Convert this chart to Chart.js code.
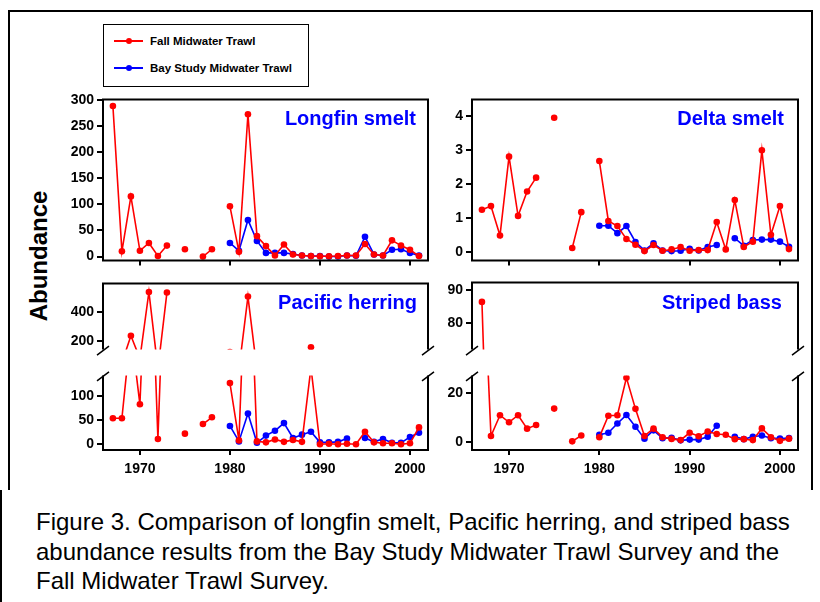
<!DOCTYPE html>
<html>
<head>
<meta charset="utf-8">
<script src="https://cdn.jsdelivr.net/npm/chart.js@4.4.0/dist/chart.umd.min.js"></script>
<style>
  body { margin: 0; width: 820px; height: 602px; background: #fff; position: relative; overflow: hidden;
         font-family: 'Liberation Sans', Arial, sans-serif; }
  canvas { position: absolute; }
  #frame { position: absolute; left: 8px; top: 10px; width: 805px; height: 480px; box-sizing: border-box;
           border: 2px solid #000; border-bottom: none; }
  #capLine { position: absolute; left: 0px; top: 490px; width: 2px; height: 120px; background: #000; }
  #legend { position: absolute; left: 103px; top: 24px; width: 206px; height: 63px; box-sizing: border-box;
            border: 1px solid #000; }
  .item { position: absolute; left: 10px; height: 12px; font-size: 11.5px; font-weight: bold; line-height: 12px; white-space: nowrap; }
  .sw { display: inline-block; position: relative; width: 29px; height: 2px; margin-right: 7px; vertical-align: middle; top: -1px; }
  .sw::after { content: ''; position: absolute; left: 12px; top: -2px; width: 6px; height: 6px; border-radius: 50%; background: inherit; }
  .title { position: absolute; width: 300px; text-align: right; color: #0000ff; font-size: 20px; font-weight: bold; line-height: 20px; }
  #ylab { position: absolute; left: 39px; top: 256px; font-size: 24px; font-weight: bold;
          transform: translate(-50%, -50%) rotate(-90deg); white-space: nowrap; }
  #caption { position: absolute; left: 36px; top: 507px; font-size: 24px; line-height: 29.5px; color: #000; white-space: nowrap; }
</style>
</head>
<body>
<div id="frame"></div>
<div id="capLine"></div>

<canvas id="longfin"></canvas>
<canvas id="delta"></canvas>
<canvas id="herringTop"></canvas>
<canvas id="herringBot"></canvas>
<canvas id="bassTop"></canvas>
<canvas id="bassBot"></canvas>

<div id="legend">
  <div class="item" style="top:10px"><span class="sw" style="background:#ff0000"></span>Fall Midwater Trawl</div>
  <div class="item" style="top:37px"><span class="sw" style="background:#0000ff"></span>Bay Study Midwater Trawl</div>
</div>

<div class="title" style="left:116px; top:108px">Longfin smelt</div>
<div class="title" style="left:484px; top:108px">Delta smelt</div>
<div class="title" style="left:117px; top:292px">Pacific herring</div>
<div class="title" style="left:482px; top:292px">Striped bass</div>

<div id="ylab">Abundance</div>

<div id="caption">Figure 3. Comparison of longfin smelt, Pacific herring, and striped bass<br>abundance results from the Bay Study Midwater Trawl Survey and the<br>Fall Midwater Trawl Survey.</div>

<script>
// years for the Fall Midwater Trawl (red) and Bay Study (blue)
const fallYears = [1967, 1968, 1969, 1970, 1971, 1972, 1973, 1974, 1975, 1976, 1977, 1978, 1979,
  1980, 1981, 1982, 1983, 1984, 1985, 1986, 1987, 1988, 1989, 1990, 1991, 1992, 1993, 1994,
  1995, 1996, 1997, 1998, 1999, 2000, 2001];
const bayYears = [1980, 1981, 1982, 1983, 1984, 1985, 1986, 1987, 1988, 1989, 1990, 1991, 1992,
  1993, 1994, 1995, 1996, 1997, 1998, 1999, 2000, 2001];

const decadeTicks = [1970, 1980, 1990, 2000];

// Longfin smelt
const longfinFall = [288, 10, 115, 11, 26, 1, 21, null, 14, null, 0, 14, null,
  96, 9, 272, 39, 20, 2, 23, 4, 2, 1, 0.5, 0.5, 1, 2, 2, 24, 4, 2, 31, 21, 13, 1];
const longfinBay = [26, 11, 70, 30, 7, 7, 7, 5, 2, 1, 1, 0, 0, 2, 1.5, 38, 4, 2, 13, 14, 7, 2];
const longfinTicks = [0, 50, 100, 150, 200, 250, 300];

// Delta smelt
const deltaFall = [1.24, 1.35, 0.48, 2.81, 1.06, 1.78, 2.19, null, 3.96, null, 0.11, 1.17, null,
  2.68, 0.91, 0.76, 0.38, 0.21, 0.02, 0.2, 0.03, 0.07, 0.14, 0.03, 0.05, 0.05, 0.88, 0.07,
  1.53, 0.14, 0.3, 3.0, 0.5, 1.35, 0.08];
const deltaBay = [0.77, 0.77, 0.55, 0.76, 0.29, 0.04, 0.25, 0.04, 0.02, 0.03, 0.09, 0.04, 0.14,
  0.2, null, 0.4, 0.18, 0.35, 0.36, 0.36, 0.3, 0.15];
const deltaTicks = [0, 1, 2, 3, 4];

// Pacific herring (broken axis)
const herringFall = [54, 54, 237, 83, 534, 11, 530, null, 22, null, 42, 56, null,
  127, 8, 503, 6, 4, 10, 5, 9, 5, 159, 0, 1, 0, 1, 0, 26, 4, 2, 2, 0, 2, 35];
const herringBay = [38, 6, 64, 3, 18, 28, 44, 13, 20, 26, 4, 4, 5, 12, null, 13, 5, 11, 3, 3, 15, 24];
const herringTopTicks = [200, 400];
const herringBotTicks = [0, 50, 100];

// Striped bass (broken axis)
const bassFall = [86.3, 2.5, 11, 8.1, 11, 5.5, 7, null, 13.7, null, 0.3, 2.7, null,
  2, 10.8, 11, 26.3, 13.6, 2.5, 5.5, 2, 1.3, 0.8, 3.8, 2.4, 4.3, 3.3, 3, 1.2, 1.2, 0.8, 5.6, 2, 0.5, 1.4];
const bassBay = [3, 3.8, 7.6, 11.1, 6.3, 1.4, 4.8, 1.6, 1.7, 0.7, 1, 1, 2.2, 6.7, null, 2.2, 1.2, 2.2, 2.7, 1.6, 1.4, 1.6];
const bassTopTicks = [80, 90];
const bassBotTicks = [0, 20];

const FONT = "'Liberation Sans', Arial, sans-serif";

// draws the box round each plot and the // marks where an axis is broken
const panelFrame = {
  id: 'panelFrame',
  afterDatasetsDraw(chart, args, opts) {
    const { ctx, chartArea: a } = chart;
    ctx.save();
    ctx.strokeStyle = '#000';
    ctx.lineWidth = 2;
    ctx.beginPath();
    ctx.moveTo(a.left, a.top - (opts.top ? 1 : 0));
    ctx.lineTo(a.left, a.bottom + (opts.bottom ? 1 : 0));
    ctx.moveTo(a.right, a.top - (opts.top ? 1 : 0));
    ctx.lineTo(a.right, a.bottom + (opts.bottom ? 1 : 0));
    if (opts.top) { ctx.moveTo(a.left, a.top); ctx.lineTo(a.right, a.top); }
    if (opts.bottom) { ctx.moveTo(a.left, a.bottom); ctx.lineTo(a.right, a.bottom); }
    ctx.stroke();
    ctx.lineWidth = 1.5;
    ctx.beginPath();
    const slash = (x, y) => { ctx.moveTo(x - 6, y + 4.5); ctx.lineTo(x + 6, y - 4.5); };
    if (opts.breakBottom) { slash(a.left, a.bottom + 1); slash(a.right, a.bottom + 1); }
    if (opts.breakTop) { slash(a.left, a.top + 1); slash(a.right, a.top + 1); }
    ctx.stroke();
    ctx.restore();
  }
};

function series(years, vals) {
  return years.map((x, i) => ({ x: x, y: vals[i] }));
}

// box = plot area edges on the page
function makePanel(id, box, cfg) {
  const padTop = cfg.breakTop ? 8 : 4;
  const padBottom = cfg.breakBottom ? 8 : 0;
  const xh = cfg.xLabels ? 30 : (cfg.xAxis ? 8 : 0);
  const yw = 50;
  const canvas = document.getElementById(id);
  canvas.width = yw + (box.right - box.left) + 8;
  canvas.height = padTop + (box.bottom - box.top) + padBottom + xh;
  canvas.style.left = (box.left - yw) + 'px';
  canvas.style.top = (box.top - padTop) + 'px';

  const tickFont = { family: FONT, size: 14, weight: 'bold' };

  new Chart(canvas, {
    type: 'line',
    data: {
      datasets: [
        {
          label: 'Fall Midwater Trawl',
          data: series(fallYears, cfg.fall),
          borderColor: '#ff0000', backgroundColor: '#ff0000',
          borderWidth: 1.6, pointRadius: 3.3, pointBorderWidth: 0,
          order: 0
        },
        {
          label: 'Bay Study Midwater Trawl',
          data: series(bayYears, cfg.bay),
          borderColor: '#0000ff', backgroundColor: '#0000ff',
          borderWidth: 1.6, pointRadius: 3.3, pointBorderWidth: 0,
          order: 1
        }
      ]
    },
    options: {
      responsive: false,
      animation: false,
      layout: { padding: { left: 0, right: 8, top: padTop, bottom: padBottom } },
      plugins: {
        legend: { display: false },
        tooltip: { enabled: false },
        panelFrame: { top: !cfg.breakTop, bottom: !cfg.breakBottom, breakTop: cfg.breakTop, breakBottom: cfg.breakBottom }
      },
      scales: {
        x: {
          type: 'linear',
          min: 1965.9, max: 2002,
          display: cfg.xAxis,
          afterBuildTicks: s => { s.ticks = decadeTicks.map(v => ({ value: v })); },
          afterFit: s => { s.height = xh; },
          grid: { drawOnChartArea: false, drawTicks: true, tickLength: 5, color: '#000', lineWidth: 2 },
          border: { display: false },
          ticks: { display: cfg.xLabels, font: tickFont, color: '#000', padding: 6, maxRotation: 0,
                   autoSkip: false, callback: v => String(v) }
        },
        y: {
          min: cfg.min, max: cfg.max,
          afterBuildTicks: s => { s.ticks = cfg.ticks.map(v => ({ value: v })); },
          afterFit: s => { s.width = yw; },
          grid: { drawOnChartArea: false, drawTicks: true, tickLength: 6, color: '#000', lineWidth: 2 },
          border: { display: false },
          ticks: { font: tickFont, color: '#000', padding: 3, callback: v => String(v) }
        }
      }
    },
    plugins: [panelFrame]
  });
}

makePanel('longfin', { left: 103, right: 428, top: 92, bottom: 264 },
  { fall: longfinFall, bay: longfinBay, min: -7.7, max: 300.5, ticks: longfinTicks, xAxis: true, xLabels: false });
makePanel('delta', { left: 472, right: 798, top: 92, bottom: 264 },
  { fall: deltaFall, bay: deltaBay, min: -0.26, max: 4.5, ticks: deltaTicks, xAxis: true, xLabels: false });
makePanel('herringTop', { left: 103, right: 428, top: 276, bottom: 353 },
  { fall: herringFall, bay: herringBay, min: 143.4, max: 592, ticks: herringTopTicks, xAxis: false, breakBottom: true });
makePanel('herringBot', { left: 103, right: 428, top: 372, bottom: 450 },
  { fall: herringFall, bay: herringBay, min: -11.9, max: 143, ticks: herringBotTicks, xAxis: true, xLabels: true, breakTop: true });
makePanel('bassTop', { left: 472, right: 798, top: 275, bottom: 353 },
  { fall: bassFall, bay: bassBay, min: 71.85, max: 92.2, ticks: bassTopTicks, xAxis: false, breakBottom: true });
makePanel('bassBot', { left: 472, right: 798, top: 372, bottom: 450 },
  { fall: bassFall, bay: bassBay, min: -3.25, max: 27.3, ticks: bassBotTicks, xAxis: true, xLabels: true, breakTop: true });
</script>
</body>
</html>
